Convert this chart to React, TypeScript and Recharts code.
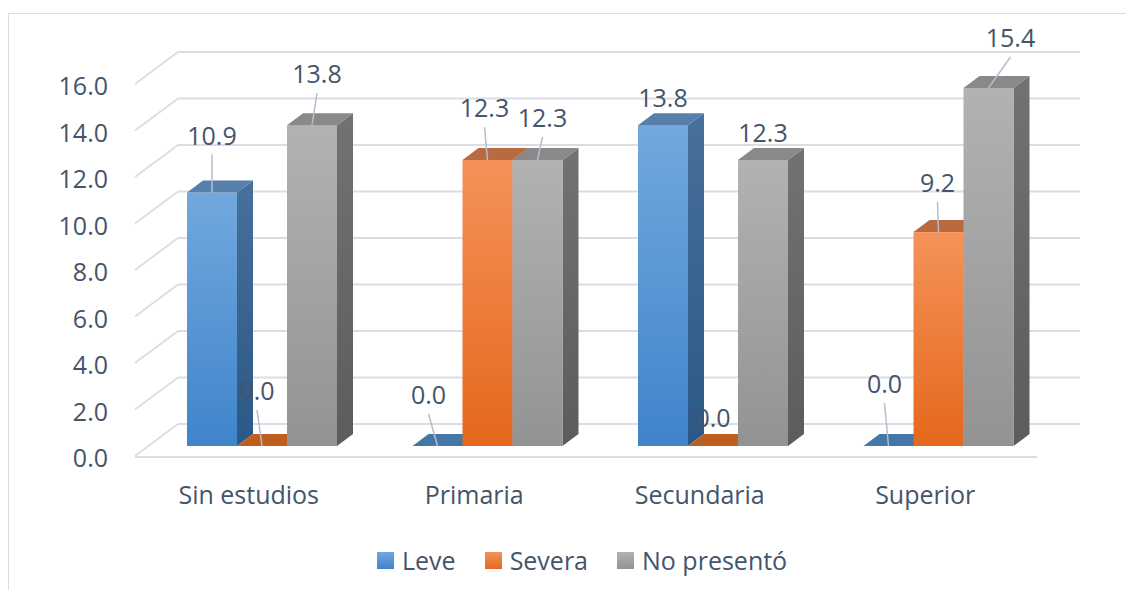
import React from "react";
import { BarChart, Bar, XAxis, YAxis, CartesianGrid, Legend, LabelList } from "recharts";

// values (%)
const categories = ["Sin estudios", "Primaria", "Secundaria", "Superior"];
const leve = [10.9, 0.0, 13.8, 0.0];
const severa = [0.0, 12.3, 0.0, 9.2];
const noPresento = [13.8, 12.3, 12.3, 15.4];
const yTicks = [0, 2, 4, 6, 8, 10, 12, 14, 16];

const data = categories.map((cat, i) => ({
  cat,
  leve: leve[i],
  severa: severa[i],
  noPresento: noPresento[i],
}));

// label placement, like the hand-moved labels in the original: [dx, dy, leader line]
const labelNudge: Record<string, number[][]> = {
  leve: [[0, -58, 1], [-9, -52, 1], [0, -28, 0], [-4, -63, 1]],
  severa: [[-5, -56, 1], [-3, -53, 1], [0, -29, 0], [-1, -50, 1]],
  noPresento: [[5, -52, 1], [5, -43, 1], [0, -28, 0], [22, -51, 1]],
};

const FONT = "'Open Sans', sans-serif";
const TEXT = "#44546a";
const GRID = "#dadee4";
const DX = 16;
const DY = 12;

const series = [
  { key: "leve", name: "Leve", id: "b", f1: "#72a8de", f2: "#3f84cb", s1: "#47709a", s2: "#2b5886", top: "#5680ab", flat: "#4477a8" },
  { key: "severa", name: "Severa", id: "o", f1: "#f5925a", f2: "#e4681b", s1: "#b8612a", s2: "#a4501a", top: "#b96a3e", flat: "#bf5f1f" },
  { key: "noPresento", name: "No presentó", id: "g", f1: "#b2b2b2", f2: "#939393", s1: "#727272", s2: "#5c5c5c", top: "#898989", flat: "#888888" },
];

const box3d = (s: any) => (props: any) => {
  const { x, y, width } = props;
  const h = Math.max(0, props.height || 0);
  const top = `${x},${y} ${x + DX},${y - DY} ${x + width + DX},${y - DY} ${x + width},${y}`;
  const side = `${x + width},${y} ${x + width + DX},${y - DY} ${x + width + DX},${y + h - DY} ${x + width},${y + h}`;
  return (
    <g>
      {h > 0 && <polygon points={side} fill={`url(#side-${s.id})`} />}
      {h > 0 && <rect x={x} y={y} width={width} height={h} fill={`url(#front-${s.id})`} />}
      <polygon points={top} fill={h > 0 ? s.top : s.flat} />
    </g>
  );
};

const barLabel = (key: string) => (p: any) => {
  const vb = p.viewBox || p;
  const cx = vb.x + vb.width / 2;
  const t = vb.y;
  const [dx, dy, leader] = labelNudge[key][p.index] || [0, -28, 0];
  const lx = cx + dx;
  const ly = t + dy;
  return (
    <g>
      {leader ? <line x1={lx} y1={ly + 20} x2={cx} y2={t} stroke="#b3bfce" strokeWidth={1.5} /> : null}
      <text x={lx} y={ly} textAnchor="middle" dominantBaseline="central" fontFamily={FONT} fontSize={25} fill={TEXT}>
        {Number(p.value).toFixed(1)}
      </text>
    </g>
  );
};

const gridLine = (props: any) => {
  const y = props.y1;
  const isFloor = props.index === 0;
  return (
    <g key={`gl-${props.index}`}>
      <line x1={135} y1={y + 10} x2={178} y2={y - 22} stroke={GRID} strokeWidth={1.8} />
      <line x1={178} y1={y - 22} x2={1080} y2={y - 22} stroke={GRID} strokeWidth={1.8} />
      {isFloor && <line x1={135} y1={y + 11} x2={1037} y2={y + 11} stroke={GRID} strokeWidth={1.8} />}
    </g>
  );
};

const YTick = (p: any) => (
  <text x={108} y={p.y + 11} textAnchor="end" dominantBaseline="central" fontFamily={FONT} fontSize={25} fill={TEXT}>
    {Number(p.payload.value).toFixed(1)}
  </text>
);

const XTick = (p: any) => (
  <text x={p.x - 13} y={494} textAnchor="middle" dominantBaseline="central" fontFamily={FONT} fontSize={25} fill={TEXT}>
    {p.payload.value}
  </text>
);

const LegendBox = () => (
  <div style={{ display: "flex", alignItems: "center", fontFamily: FONT, fontSize: 25, color: TEXT }}>
    {series.map((s) => (
      <div key={s.key} style={{ display: "flex", alignItems: "center", marginRight: 29 }}>
        <span
          style={{
            display: "inline-block",
            width: 17,
            height: 17,
            background: `linear-gradient(${s.f1}, ${s.f2})`,
            marginRight: 8,
          }}
        />
        <span>{s.name}</span>
      </div>
    ))}
  </div>
);

export default function App() {
  return (
    <div style={{ position: "relative", width: 1126, height: 590, overflow: "hidden", background: "#fff" }}>
      <style>{"body{margin:0;overflow:hidden}"}</style>
      <div
        style={{
          position: "absolute",
          left: 8,
          top: 13,
          width: 1300,
          height: 800,
          border: "1.5px solid #d9dce1",
        }}
      />
      <div style={{ position: "absolute", left: 0, top: 0 }}>
        <BarChart
          width={1126}
          height={590}
          data={data}
          barSize={50}
          barGap={0}
          margin={{ top: 74, right: 75, left: 89, bottom: 114 }}
        >
          <defs>
            {series.map((s) => (
              <React.Fragment key={s.id}>
                <linearGradient id={`front-${s.id}`} x1="0" y1="0" x2="0" y2="1">
                  <stop offset="0%" stopColor={s.f1} />
                  <stop offset="100%" stopColor={s.f2} />
                </linearGradient>
                <linearGradient id={`side-${s.id}`} x1="0" y1="0" x2="0" y2="1">
                  <stop offset="0%" stopColor={s.s1} />
                  <stop offset="100%" stopColor={s.s2} />
                </linearGradient>
              </React.Fragment>
            ))}
          </defs>
          <CartesianGrid vertical={false} horizontal={gridLine} />
          <XAxis dataKey="cat" height={30} axisLine={false} tickLine={false} tick={<XTick />} interval={0} />
          <YAxis
            width={60}
            domain={[0, 16]}
            ticks={yTicks}
            axisLine={false}
            tickLine={false}
            tick={<YTick />}
            interval={0}
          />
          <Legend
            verticalAlign="middle"
            align="center"
            layout="horizontal"
            content={<LegendBox />}
            wrapperStyle={{ top: 543, left: 377, width: "auto" }}
          />
          {series.map((s) => (
            <Bar key={s.key} dataKey={s.key} name={s.name} fill={s.f1} shape={box3d(s)} isAnimationActive={false}>
              <LabelList dataKey={s.key} content={barLabel(s.key)} />
            </Bar>
          ))}
        </BarChart>
      </div>
    </div>
  );
}
